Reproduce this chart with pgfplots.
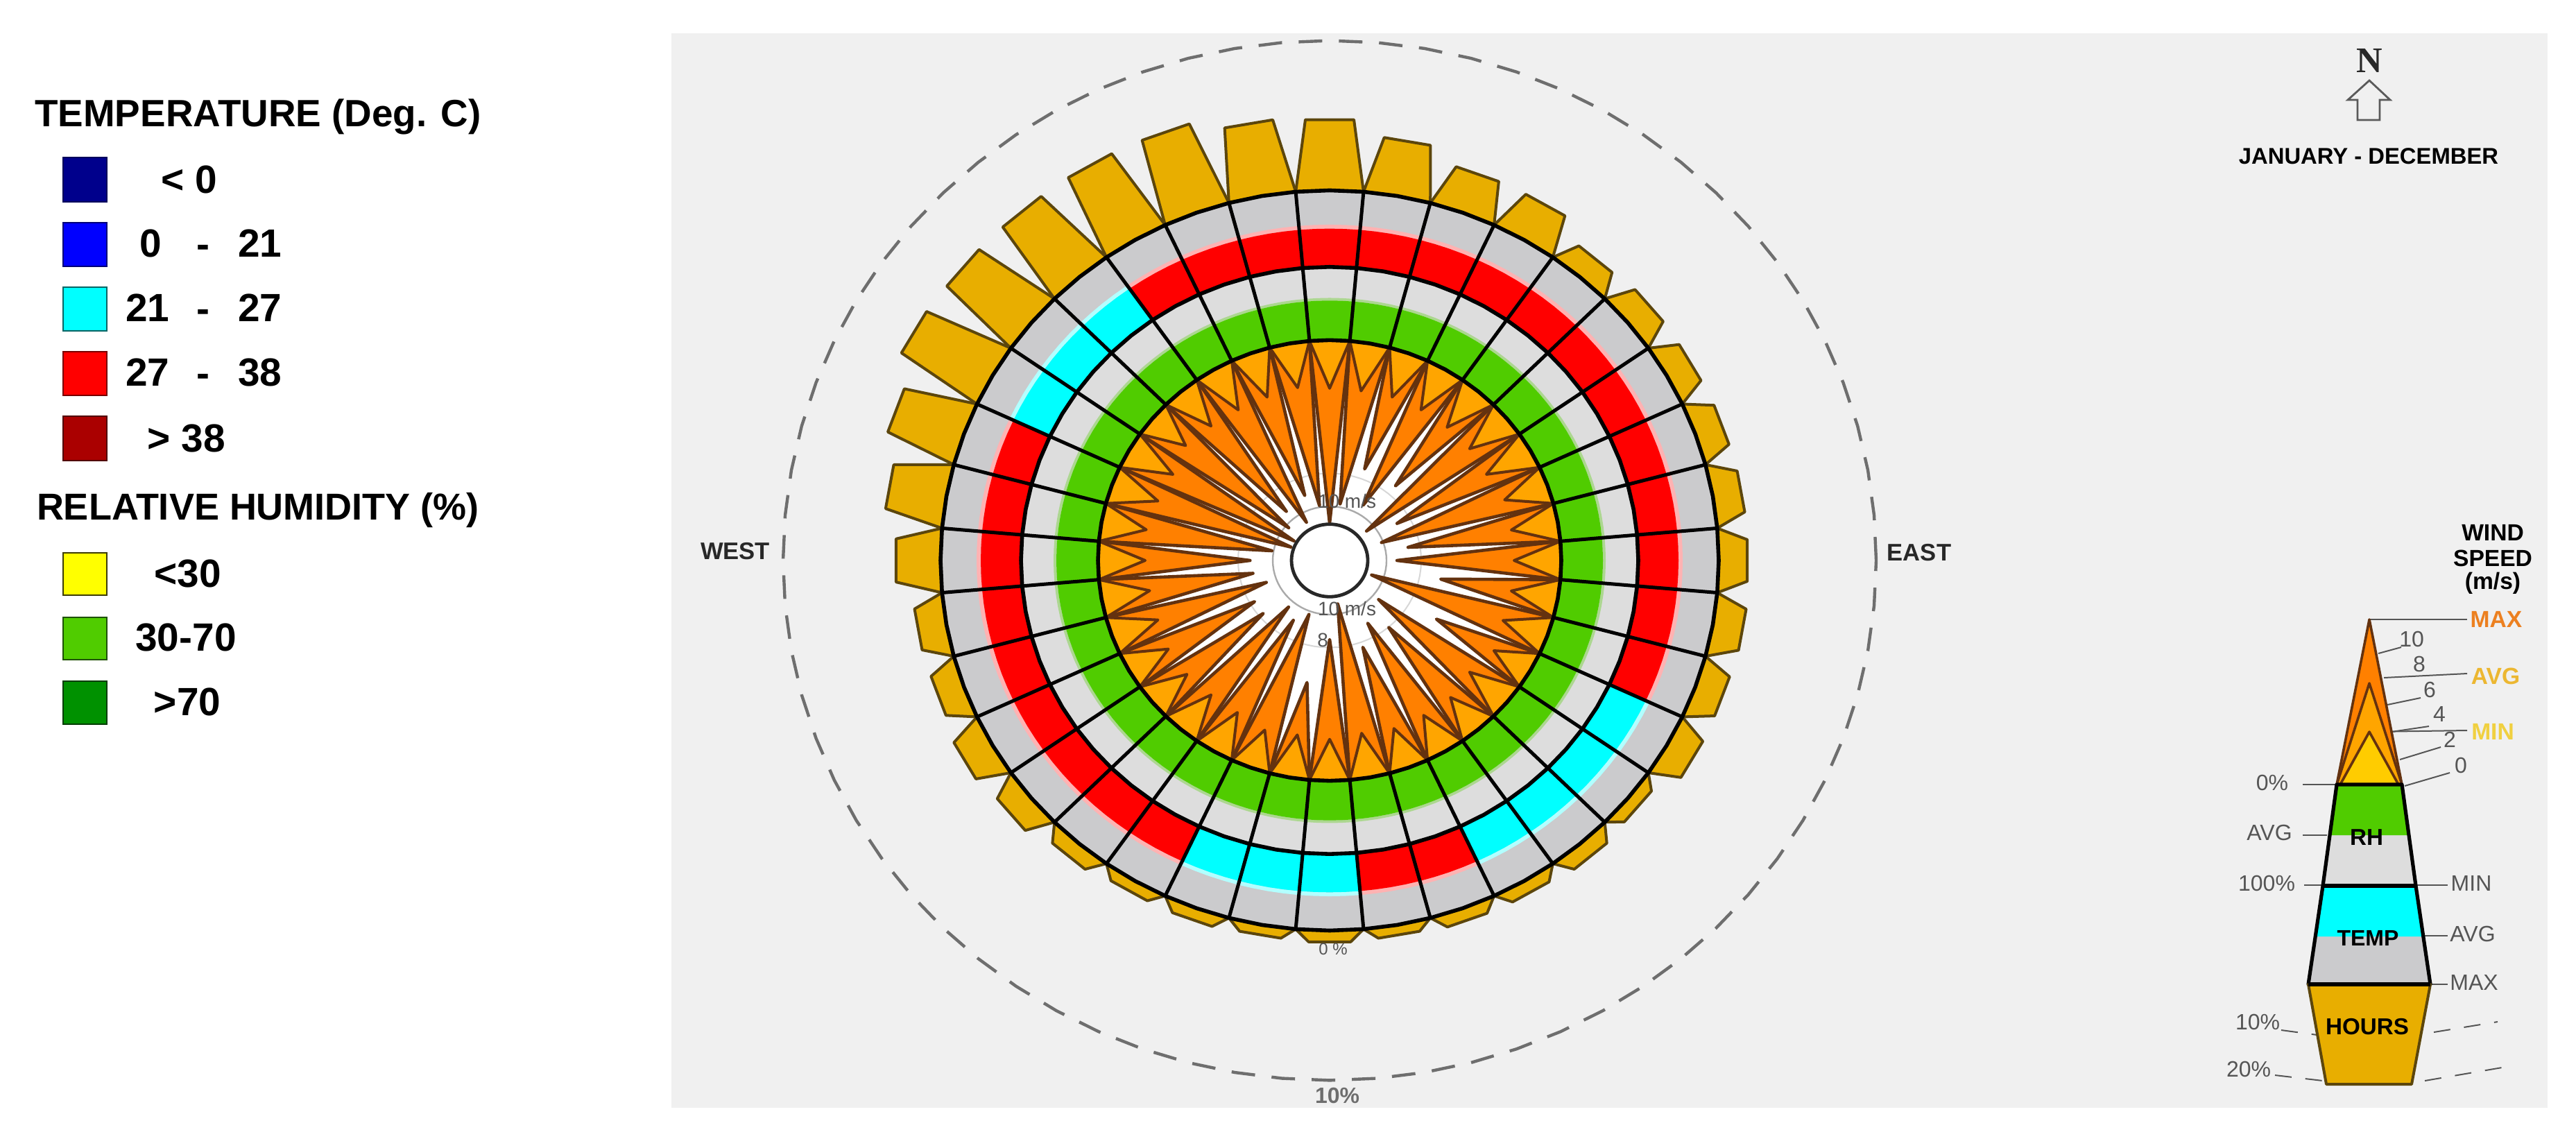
\documentclass[border=0pt]{standalone}
\usepackage{fontspec}
\setmainfont{Liberation Sans}
\newfontfamily\serifb{Liberation Serif}
\usepackage{pgfplots}
\usepackage{pgfplotstable}
\pgfplotsset{compat=1.18}

\definecolor{panel}{RGB}{240,240,240}
\definecolor{hourfill}{RGB}{232,174,0}
\definecolor{hourline}{RGB}{92,70,12}
\definecolor{windmax}{RGB}{255,128,0}
\definecolor{windavg}{RGB}{255,165,0}
\definecolor{windmin}{RGB}{255,204,0}
\definecolor{windline}{RGB}{100,50,15}
\definecolor{rhgreen}{RGB}{80,204,0}
\definecolor{rhgrey}{RGB}{221,221,221}
\definecolor{tgrey}{RGB}{203,203,205}
\definecolor{txtgrey}{RGB}{85,85,85}
\definecolor{lblavg}{RGB}{236,183,49}
\definecolor{lblmin}{RGB}{240,208,64}
\definecolor{lblmax}{RGB}{236,128,32}
\definecolor{tcyan}{RGB}{0,255,255}
\definecolor{tred}{RGB}{255,0,0}
\definecolor{sw1}{RGB}{0,0,140}\definecolor{sw1b}{RGB}{0,0,90}
\definecolor{sw2}{RGB}{0,0,255}\definecolor{sw2b}{RGB}{0,0,120}
\definecolor{sw3b}{RGB}{0,100,100}
\definecolor{sw4b}{RGB}{120,0,0}
\definecolor{sw5}{RGB}{170,0,0}\definecolor{sw5b}{RGB}{80,0,0}
\definecolor{sw6}{RGB}{255,255,0}\definecolor{sw6b}{RGB}{60,60,0}
\definecolor{sw7b}{RGB}{30,80,0}
\definecolor{sw8}{RGB}{0,145,0}\definecolor{sw8b}{RGB}{0,60,0}
\definecolor{dk40}{RGB}{40,40,40}
\definecolor{dk90}{RGB}{90,90,90}
\definecolor{dk110}{RGB}{110,110,110}
\definecolor{lt170}{RGB}{170,170,170}
\definecolor{lt215}{RGB}{215,215,215}

% one row per direction, clockwise from north
% hours: % of the year, wavg/wmax: m/s, temp: colour of the average band
\pgfplotstableread{
dir hours temp  wavg wmax
0   4.76  tred  2.9  11.0
10  3.74  tred  2.9  9.8
20  2.78  tred  2.8  7.4
30  2.73  tred  2.8  9.4
40  1.59  tred  2.8  7.4
50  1.81  tred  2.8  10.5
60  1.76  tred  2.9  8.8
70  1.81  tred  2.6  10.1
80  1.85  tred  2.7  8.7
90  1.85  tred  2.7  9.4
100 1.94  tred  2.7  6.8
110 1.85  tred  2.7  10.7
120 1.89  tcyan 2.4  6.2
130 0.88  tcyan 2.8  9.6
140 1.10  tcyan 2.5  8.0
150 0.88  tcyan 2.5  8.9
160 0.88  tred  2.5  7.7
170 0.70  tred  2.7  10.6
180 0.79  tcyan 2.5  8.5
190 0.70  tcyan 2.6  5.8
200 0.84  tcyan 2.4  9.8
210 0.79  tred  2.7  9.1
220 1.10  tred  2.7  9.6
230 1.72  tred  2.6  8.3
240 2.07  tred  2.6  8.3
250 1.76  tred  2.8  9.4
260 1.85  tred  2.8  8.8
270 2.86  tred  2.7  8.7
280 3.70  tred  2.6  9.9
290 4.63  tred  2.8  10.9
300 5.81  tcyan 2.9  10.9
310 5.73  tcyan 2.5  10.2
320 5.73  tcyan 2.7  9.4
330 5.77  tred  2.8  10.6
340 5.77  tred  2.8  9.1
350 4.93  tred  2.7  9.9
}\wheel

\newcommand\fs[1]{\fontsize{#1}{#1}\selectfont}
\newcommand\lbl[4][black]{\node[inner sep=0pt,text=#1] at (axis cs:#2,#3) {#4};}
\newcommand\swatch[4]{% y1 y2 fill border
  \addplot[fill=#3,draw=#4,line width=0.7pt] coordinates {(91,#1)(154,#1)(154,#2)(91,#2)} --cycle;}
\newcommand\seg[5][txtgrey]{\addplot[#1,line width=0.5pt] coordinates {(#2,#3)(#4,#5)};}

% polar helpers, angles run from the direction of the current row
\newcommand\setangles[1]{%
  \pgfmathsetmacro\aa{90-#1-5}\pgfmathsetmacro\ab{90-#1-2.5}\pgfmathsetmacro\ac{90-#1}%
  \pgfmathsetmacro\ad{90-#1+2.5}\pgfmathsetmacro\ae{90-#1+5}}
\newcommand\cell[3]{% r1 r2 colour
  \edef\tmp{\noexpand\addplot[fill=#3,draw=none,data cs=polar] coordinates
    {(\aa,#1)(\ab,#1)(\ac,#1)(\ad,#1)(\ae,#1)(\ae,#2)(\ad,#2)(\ac,#2)(\ab,#2)(\aa,#2)} --cycle;}\tmp}
\newcommand\spike[3]{% apex radius, fill, line width
  \edef\tmp{\noexpand\addplot[fill=#2,draw=windline,line width=#3,line join=round,data cs=polar] coordinates
    {(\aa,334)(\ac,#1)(\ae,334)};}\tmp}
\newcommand\ringpts[1]{\gdef\pts{}\foreach \a in {0,5,...,360}{\xdef\pts{\pts(\a,#1)}}}
\newcommand\ring[2]{% radius, options
  \ringpts{#1}\edef\tmp{\noexpand\addplot[#2,data cs=polar] coordinates {\pts};}\tmp}

\begin{document}
\begin{tikzpicture}
\path[use as bounding box] (0,0) rectangle (928.5pt,410.25pt);
\fill[white] (0,0) rectangle (928.5pt,410.25pt);

% page layer, in the pixels of the picture
\begin{axis}[at={(0,0)},anchor=south west,scale only axis,width=928.5pt,height=410.25pt,
  xmin=0,xmax=3714,ymin=0,ymax=1641,y dir=reverse,hide axis]
\addplot[fill=panel,draw=none] coordinates {(968,48)(3673,48)(3673,1597)(968,1597)} --cycle;

% legend
\swatch{227}{291}{sw1}{sw1b}
\swatch{321}{384}{sw2}{sw2b}
\swatch{414}{477}{tcyan}{sw3b}
\swatch{507}{570}{tred}{sw4b}
\swatch{600}{664}{sw5}{sw5b}
\swatch{797}{858}{sw6}{sw6b}
\swatch{890}{951}{rhgreen}{sw7b}
\swatch{982}{1044}{sw8}{sw8b}
\lbl{372}{168}{\fs{13.7pt}\bfseries TEMPERATURE (Deg. C)}
\lbl{372}{736}{\fs{13.5pt}\bfseries RELATIVE HUMIDITY (\%)}
\lbl{273}{259}{\fs{14.2pt}\bfseries < 0}
\lbl{217}{351}{\fs{14.2pt}\bfseries 0}
\lbl{293}{362}{\fs{14.2pt}\bfseries -}
\lbl{375}{351}{\fs{14.2pt}\bfseries 21}
\lbl{213}{444}{\fs{14.2pt}\bfseries 21}
\lbl{293}{455}{\fs{14.2pt}\bfseries -}
\lbl{375}{444}{\fs{14.2pt}\bfseries 27}
\lbl{213}{537}{\fs{14.2pt}\bfseries 27}
\lbl{293}{548}{\fs{14.2pt}\bfseries -}
\lbl{375}{537}{\fs{14.2pt}\bfseries 38}
\lbl{269}{632}{\fs{14.2pt}\bfseries > 38}
\lbl{271}{827}{\fs{14.2pt}\bfseries <30}
\lbl{268}{919}{\fs{14.2pt}\bfseries 30-70}
\lbl{270}{1012}{\fs{14.2pt}\bfseries >70}

% north arrow and period
\lbl[dk40]{3416}{87}{\serifb\fs{13pt}\bfseries N}
\addplot[draw=dk90,line width=0.7pt,fill=none] coordinates
  {(3416,116)(3446,144)(3431,144)(3431,173)(3399,173)(3399,144)(3385,144)} --cycle;
\lbl{3415}{225}{\fs{8.2pt}\bfseries JANUARY - DECEMBER}
\lbl[dk40]{1060}{795}{\fs{8.65pt}\bfseries WEST}
\lbl[dk40]{2767}{797}{\fs{8.65pt}\bfseries EAST}

% key wedge
\seg{3416}{893}{3557}{893}
\seg{3429}{942}{3462}{933}
\seg{3437}{977}{3557}{971}
\seg{3442}{1016}{3490}{1006}
\seg{3448}{1055}{3502}{1047}
\seg{3416}{1055}{3557}{1053}
\seg{3460}{1095}{3519}{1077}
\seg{3467}{1133}{3532}{1114}
\seg{3320}{1131}{3369}{1131}
\seg{3320}{1204}{3355}{1204}
\seg{3322}{1276}{3349}{1276}
\seg{3483}{1276}{3529}{1276}
\seg{3494}{1349}{3529}{1349}
\seg{3504}{1419}{3529}{1419}
\addplot[txtgrey,line width=0.5pt,dash pattern=on 6pt off 5pt] coordinates {(3289,1485)(3341,1492)};
\addplot[txtgrey,line width=0.5pt,dash pattern=on 6pt off 5pt] coordinates {(3280,1550)(3349,1558)};
\addplot[txtgrey,line width=0.5pt,dash pattern=on 6pt off 5pt] coordinates {(3509,1488)(3601,1473)};
\addplot[txtgrey,line width=0.5pt,dash pattern=on 6pt off 5pt] coordinates {(3496,1558)(3613,1538)};
\addplot[fill=windmax,draw=windline,line width=0.9pt,line join=round] coordinates {(3416,893)(3463,1131)(3369,1131)} --cycle;
\addplot[fill=windavg,draw=windline,line width=0.9pt,line join=round] coordinates {(3416,985)(3463,1131)(3369,1131)} --cycle;
\addplot[fill=windmin,draw=windline,line width=0.9pt,line join=round] coordinates {(3416,1055)(3458,1131)(3374,1131)} --cycle;
\addplot[fill=rhgrey,draw=none] coordinates {(3369,1131)(3463,1131)(3483,1277)(3349,1277)} --cycle;
\addplot[fill=rhgreen,draw=none] coordinates {(3369,1131)(3463,1131)(3473,1204)(3359,1204)} --cycle;
\addplot[fill=tgrey,draw=none] coordinates {(3349,1277)(3483,1277)(3504,1419)(3328,1419)} --cycle;
\addplot[fill=tcyan,draw=none] coordinates {(3349,1277)(3483,1277)(3494,1350)(3338,1350)} --cycle;
\addplot[draw=black,line width=1.3pt,line join=round] coordinates
  {(3369,1131)(3463,1131)(3483,1277)(3504,1419)(3328,1419)(3349,1277)} --cycle;
\addplot[draw=black,line width=1.3pt] coordinates {(3349,1277)(3483,1277)};
\addplot[fill=hourfill,draw=hourline,line width=1pt,line join=round] coordinates
  {(3328,1419)(3504,1419)(3477,1563)(3354,1563)} --cycle;
\addplot[draw=black,line width=1.3pt] coordinates {(3328,1419)(3504,1419)};

\lbl{3412}{1207}{\fs{8.3pt}\bfseries RH}
\lbl{3414}{1352}{\fs{8pt}\bfseries TEMP}
\lbl{3413}{1480}{\fs{8.3pt}\bfseries HOURS}
\lbl{3594}{768}{\fs{8.4pt}\bfseries WIND}
\lbl{3594}{805}{\fs{8.4pt}\bfseries SPEED}
\lbl{3594}{841}{\fs{8.4pt}\bfseries (m/s)}
\lbl[lblmax]{3599}{893}{\fs{8.4pt}\bfseries MAX}
\lbl[lblavg]{3598}{975}{\fs{8.4pt}\bfseries AVG}
\lbl[lblmin]{3594}{1055}{\fs{8.4pt}\bfseries MIN}
\lbl[txtgrey]{3477}{921}{\fs{8pt}10}
\lbl[txtgrey]{3488}{957}{\fs{8pt}8}
\lbl[txtgrey]{3503}{994}{\fs{8pt}6}
\lbl[txtgrey]{3517}{1029}{\fs{8pt}4}
\lbl[txtgrey]{3532}{1066}{\fs{8pt}2}
\lbl[txtgrey]{3548}{1103}{\fs{8pt}0}
\lbl[txtgrey]{3276}{1128}{\fs{8pt}0\%}
\lbl[txtgrey]{3272}{1200}{\fs{8pt}AVG}
\lbl[txtgrey]{3268}{1273}{\fs{8pt}100\%}
\lbl[txtgrey]{3563}{1273}{\fs{8pt}MIN}
\lbl[txtgrey]{3565}{1346}{\fs{8pt}AVG}
\lbl[txtgrey]{3567}{1416}{\fs{8pt}MAX}
\lbl[txtgrey]{3255}{1473}{\fs{8pt}10\%}
\lbl[txtgrey]{3242}{1541}{\fs{8pt}20\%}
\end{axis}

% wheel layer, centred on the hub; the picture is 5% flatter than it is wide
\begin{axis}[at={(0,0)},anchor=south west,scale only axis,width=928.5pt,height=410.25pt,
  xmin=-1917,xmax=1797,ymin=-875.9,ymax=849.6,hide axis]
\ring{788}{draw=dk110,line width=1.1pt,dash pattern=on 8.5pt off 6pt}
\ring{334}{fill=white,draw=none}
\ring{132}{draw=lt215,line width=0.5pt}
\ring{82}{draw=lt170,line width=0.6pt}

% wind: maximum spikes first, averages over them
\pgfplotsforeachungrouped \i in {0,...,35}{
  \pgfplotstablegetelem{\i}{dir}\of\wheel \setangles{\pgfplotsretval}
  \pgfplotstablegetelem{\i}{wmax}\of\wheel \pgfmathsetmacro\rr{334-25.2*\pgfplotsretval}
  \spike{\rr}{windmax}{1.15pt}
}
\pgfplotsforeachungrouped \i in {0,...,35}{
  \pgfplotstablegetelem{\i}{dir}\of\wheel \setangles{\pgfplotsretval}
  \pgfplotstablegetelem{\i}{wavg}\of\wheel \pgfmathsetmacro\rr{334-25.2*\pgfplotsretval}
  \spike{\rr}{windavg}{1pt}
}
\ring{55}{fill=white,draw=dk40,line width=1.2pt}

% humidity and temperature bands, then the hours
\pgfplotsforeachungrouped \i in {0,...,35}{
  \pgfplotstablegetelem{\i}{dir}\of\wheel \setangles{\pgfplotsretval}
  \pgfplotstablegetelem{\i}{temp}\of\wheel \let\tc\pgfplotsretval
  \cell{334}{445}{rhgrey}
  \cell{394}{398}{rhgreen!35!rhgrey}
  \cell{334}{394}{rhgreen}
  \cell{445}{561}{tgrey}
  \cell{503}{509}{\tc!30!white}
  \cell{445}{503}{\tc}
  \pgfplotstablegetelem{\i}{hours}\of\wheel \pgfmathsetmacro\rr{561+22.7*\pgfplotsretval}
  \pgfmathsetmacro\ta{\ac-3}\pgfmathsetmacro\tb{\ac+3}
  \edef\tmp{\noexpand\addplot[fill=hourfill,draw=hourline,line width=1pt,line join=round,data cs=polar]
    coordinates {(\aa,561)(\ta,\rr)(\tb,\rr)(\ae,561)};}\tmp
}
\pgfplotsforeachungrouped \i in {0,...,35}{
  \pgfplotstablegetelem{\i}{dir}\of\wheel \setangles{\pgfplotsretval}
  \edef\tmp{\noexpand\addplot[draw=black,line width=1.25pt,data cs=polar] coordinates {(\ae,334)(\ae,561)};}\tmp
}
\ring{334}{draw=black,line width=1.4pt}
\ring{445}{draw=black,line width=1.4pt}
\ring{561}{draw=black,line width=1.4pt}

\lbl[txtgrey]{25}{90}{\fs{7pt}10 m/s}
\lbl[txtgrey]{25}{-73}{\fs{7pt}10 m/s}
\lbl[txtgrey]{-10}{-121}{\fs{7pt}8}
\lbl[txtgrey]{5}{-589}{\fs{6pt}0 \%}
\lbl[dk110]{11}{-811}{\fs{8pt}\bfseries 10\%}
\end{axis}
\end{tikzpicture}
\end{document}
